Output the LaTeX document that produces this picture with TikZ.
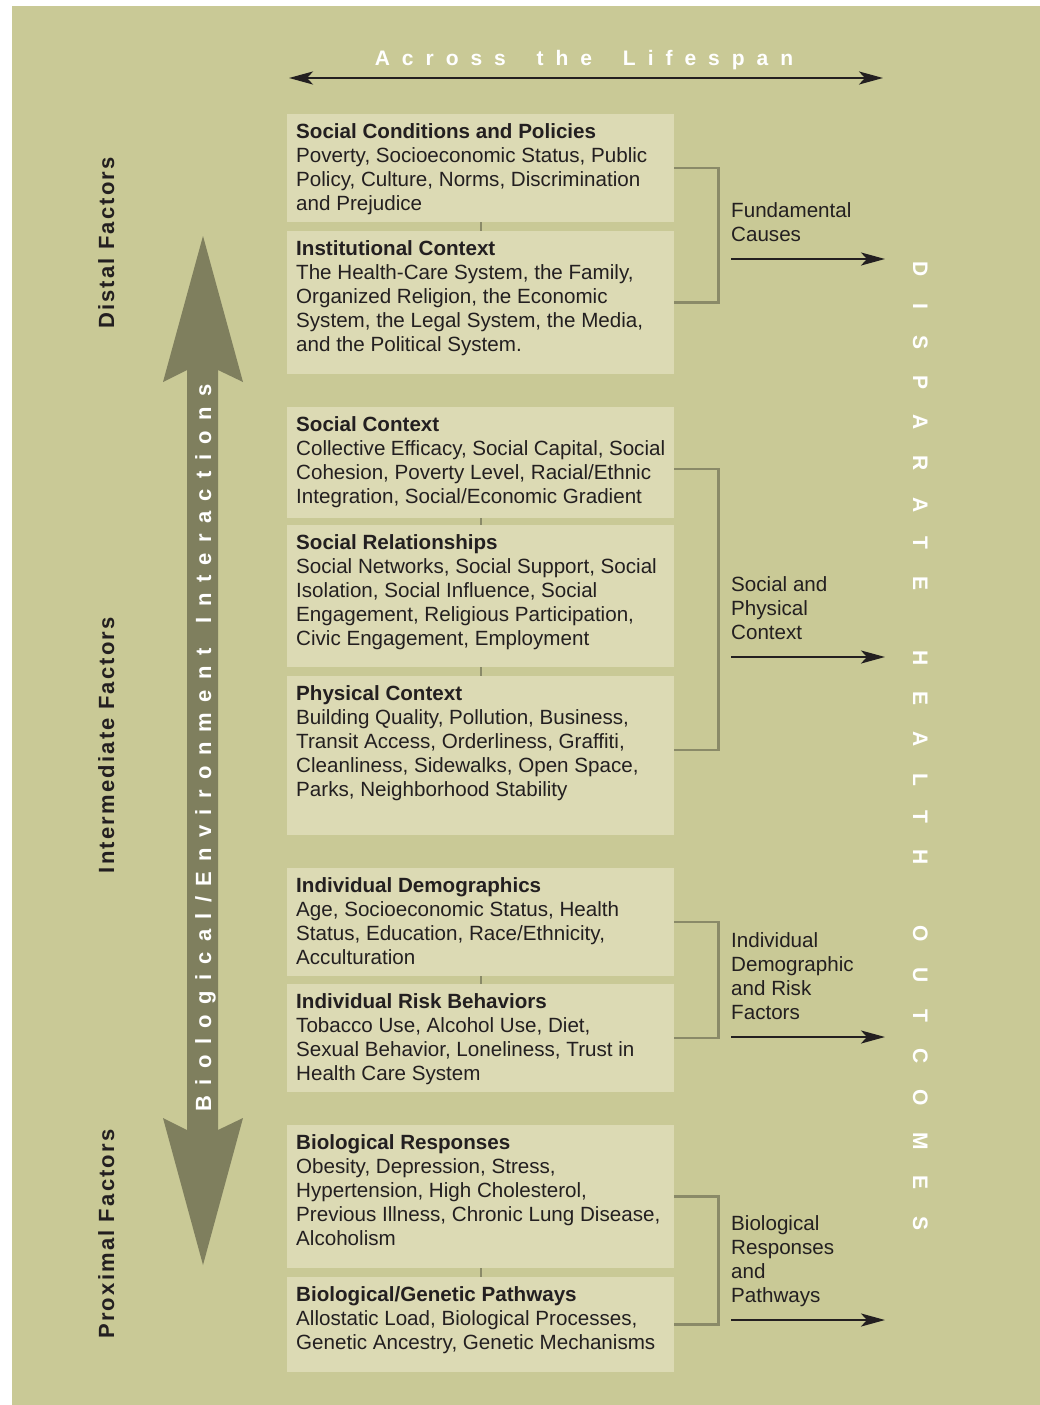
\documentclass[tikz,border=0pt]{standalone}
\usepackage{fontspec}
\setmainfont{Liberation Sans}
\usetikzlibrary{arrows.meta,positioning}
\definecolor{bggreen}{HTML}{C9C996}
\definecolor{boxfill}{HTML}{DCDAB4}
\definecolor{shaftgrey}{HTML}{7F7F5E}
\definecolor{bracketgrey}{HTML}{8A8A68}
\definecolor{ink}{HTML}{231F20}

\newcommand{\factor}[3]{\parbox[c][\dimexpr#1pt-19pt\relax][t]{369pt}{\raggedright\textbf{#2}\\#3}}
\newcommand{\lifespanfont}{\fontsize{21}{24}\selectfont\bfseries\addfontfeatures{LetterSpace=57}}
\newcommand{\interactfont}{\fontsize{22}{24}\selectfont\bfseries\addfontfeatures{LetterSpace=47}}
\newcommand{\outcomefont}{\fontsize{21}{24}\selectfont\bfseries\addfontfeatures{LetterSpace=125}}

\begin{document}
\begin{tikzpicture}[x=1pt,y=-1pt,
    factor/.style={fill=boxfill, anchor=north west, inner xsep=9pt, inner ysep=9.5pt,
      text=ink, font=\fontsize{20.6}{24}\selectfont},
    link/.style={draw=bracketgrey, line width=2pt},
    bracket/.style={draw=bracketgrey, line width=2.5pt},
    outarrow/.style={draw=ink, line width=2.6pt, -{Stealth[length=24pt,width=13pt,inset=6pt]}},
    outlabel/.style={text=ink, align=left, inner sep=0pt, font=\fontsize{20.6}{24}\selectfont},
    sidelabel/.style={text=ink, rotate=90, anchor=base,
      font=\fontsize{22}{24}\selectfont\bfseries\addfontfeatures{LetterSpace=10}},
    spaced/.style={text=white, anchor=base, inner sep=0pt}]
  \useasboundingbox (0,0) rectangle (1040,1405);
  \fill[bggreen] (12,6) rectangle (1040,1405);

  % across the lifespan
  \coordinate (life-l) at (289,78);
  \coordinate (life-r) at (883,78);
  \draw[outarrow, {Stealth[length=24pt,width=13pt,inset=6pt]}-{Stealth[length=24pt,width=13pt,inset=6pt]}] (life-l) -- (life-r);
  \node[spaced, font=\lifespanfont] (life) at (584,66) {Across\hspace{13pt} the\hspace{13pt} Lifespan};

  % big double arrow
  \fill[shaftgrey] (203,236) -- (243,382) -- (218,370) -- (218,1130) -- (243,1118) -- (203,1265)
    -- (163,1118) -- (187,1130) -- (187,370) -- (163,382) -- cycle;
  \node[spaced, rotate=90, font=\interactfont] (interact) at (211,748) {Biological/Environment\hspace{9pt} Interactions};

  % factor levels
  \node[sidelabel] (distal) at (114,243) {Distal Factors};
  \node[sidelabel] (interm) at (114,745) {Intermediate Factors};
  \node[sidelabel] (proximal) at (114,1234) {Proximal Factors};

  % boxes
  \node[factor] (condit) at (287,114) {\factor{108}{Social Conditions and Policies}{Poverty, Socioeconomic Status, Public\\Policy, Culture, Norms, Discrimination\\and Prejudice}};
  \node[factor] (instit) at (287,231) {\factor{143}{Institutional Context}{The Health-Care System, the Family,\\Organized Religion, the Economic\\System, the Legal System, the Media,\\and the Political System.}};
  \node[factor] (socctx) at (287,407) {\factor{111}{Social Context}{Collective Efficacy, Social Capital, Social\\Cohesion, Poverty Level, Racial/Ethnic\\Integration, Social/Economic Gradient}};
  \node[factor] (socrel) at (287,525) {\factor{142}{Social Relationships}{Social Networks, Social Support, Social\\Isolation, Social Influence, Social\\Engagement, Religious Participation,\\Civic Engagement, Employment}};
  \node[factor] (physctx) at (287,676) {\factor{159}{Physical Context}{Building Quality, Pollution, Business,\\Transit Access, Orderliness, Graffiti,\\Cleanliness, Sidewalks, Open Space,\\Parks, Neighborhood Stability}};
  \node[factor] (demog) at (287,868) {\factor{108}{Individual Demographics}{Age, Socioeconomic Status, Health\\Status, Education, Race/Ethnicity,\\Acculturation}};
  \node[factor] (riskbeh) at (287,984) {\factor{108}{Individual Risk Behaviors}{Tobacco Use, Alcohol Use, Diet,\\Sexual Behavior, Loneliness, Trust in\\Health Care System}};
  \node[factor] (bioresp) at (287,1125) {\factor{143}{Biological Responses}{Obesity, Depression, Stress,\\Hypertension, High Cholesterol,\\Previous Illness, Chronic Lung Disease,\\Alcoholism}};
  \node[factor] (biogen) at (287,1277) {\factor{95}{Biological/Genetic Pathways}{Allostatic Load, Biological Processes,\\Genetic Ancestry, Genetic Mechanisms}};

  \draw[link] (condit.south) -- (instit.north);
  \draw[link] (socctx.south) -- (socrel.north);
  \draw[link] (socrel.south) -- (physctx.north);
  \draw[link] (demog.south) -- (riskbeh.north);
  \draw[link] (bioresp.south) -- (biogen.north);

  % brackets
  \draw[bracket] (condit.east) -- ++(44,0) |- (instit.east);
  \draw[bracket] ([yshift=-6.5pt]socctx.east) -- ++(44,0) |- ([yshift=5.5pt]physctx.east);
  \draw[bracket] (demog.east) -- ++(44,0) |- (riskbeh.east);
  \draw[bracket] (bioresp.east) -- ++(44,0) |- (biogen.east);

  % causes
  \coordinate (fund-s) at (731,259);   \coordinate (fund-e) at (885,259);
  \coordinate (place-s) at (731,657);  \coordinate (place-e) at (885,657);
  \coordinate (indiv-s) at (731,1037); \coordinate (indiv-e) at (885,1037);
  \coordinate (bio-s) at (731,1320);   \coordinate (bio-e) at (885,1320);
  \draw[outarrow] (fund-s) -- (fund-e);
  \draw[outarrow] (place-s) -- (place-e);
  \draw[outarrow] (indiv-s) -- (indiv-e);
  \draw[outarrow] (bio-s) -- (bio-e);
  \node[outlabel, above right=9.8pt and 0pt of fund-s] (fund) {Fundamental\\Causes\strut};
  \node[outlabel, above right=9.8pt and 0pt of place-s] (place) {Social and\\Physical\\Context\strut};
  \node[outlabel, above right=9.8pt and 0pt of indiv-s] (indiv) {Individual\\Demographic\\and Risk\\Factors\strut};
  \node[outlabel, above right=9.8pt and 0pt of bio-s] (bio) {Biological\\Responses\\and\\Pathways\strut};

  % outcomes
  \node[spaced, rotate=-90, font=\outcomefont] (outcomes) at (913,746) {DISPARATE\hspace{28pt} HEALTH\hspace{28pt} OUTCOMES};
\end{tikzpicture}
\end{document}
